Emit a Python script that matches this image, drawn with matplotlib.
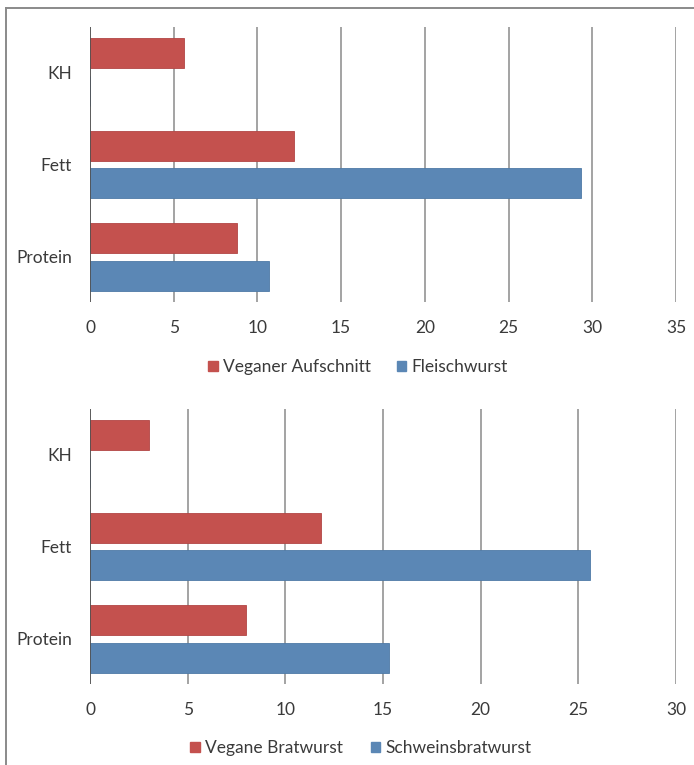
"""Naehrwertvergleich: vegane Wurst vs. Fleischwurst (horizontale Balken)."""

import matplotlib

matplotlib.use("Agg")
import matplotlib.pyplot as plt
import numpy as np
from matplotlib.lines import Line2D
from matplotlib.patches import Patch

CATEGORIES = ["Protein", "Fett", "KH"]

# oberes Diagramm
VEGANER_AUFSCHNITT = [8.8, 12.2, 5.6]
FLEISCHWURST = [10.7, 29.3, 0.0]
TOP_TICKS = [0, 5, 10, 15, 20, 25, 30, 35]

# unteres Diagramm
VEGANE_BRATWURST = [8.0, 11.8, 3.0]
SCHWEINSBRATWURST = [15.3, 25.6, 0.0]
BOTTOM_TICKS = [0, 5, 10, 15, 20, 25, 30]

RED = "#c4514e"
BLUE = "#5b87b5"
TEXT = "#3a3a3a"
GRID = "#8a8a8a"
FONT_SIZE = 12.5

plt.rcParams["font.family"] = ["Lato", "DejaVu Sans"]


def draw_panel(axis, red_values, blue_values, ticks):
    y = np.arange(len(CATEGORIES))
    height = 0.324
    offset = 0.205
    axis.barh(y + offset, red_values, height=height, color=RED,
              edgecolor="#b24644", linewidth=0.6, zorder=3)
    axis.barh(y - offset, blue_values, height=height, color=BLUE,
              edgecolor="#4e7aa6", linewidth=0.6, zorder=3)

    axis.set_xlim(ticks[0], ticks[-1])
    axis.set_ylim(-0.49, 2.49)
    axis.set_xticks(ticks)
    axis.set_yticks(y)
    axis.set_yticklabels(CATEGORIES)
    axis.grid(axis="x", color=GRID, linewidth=1.1, zorder=0)
    axis.axvline(0, color="#505050", linewidth=1.2, zorder=4)
    for spine in axis.spines.values():
        spine.set_visible(False)
    axis.tick_params(axis="x", length=0, pad=13, labelsize=FONT_SIZE, labelcolor=TEXT)
    axis.tick_params(axis="y", length=0, pad=13, labelsize=FONT_SIZE, labelcolor=TEXT)


def legend_handles(labels):
    return [
        Patch(facecolor=RED, edgecolor=RED, label=labels[0]),
        Patch(facecolor=BLUE, edgecolor=BLUE, label=labels[1]),
    ]


figure = plt.figure(figsize=(6.94, 7.65), dpi=100)
top_axis = figure.add_axes([0.1297, 0.6052, 0.8444, 0.3595])
bottom_axis = figure.add_axes([0.1297, 0.1059, 0.8444, 0.3595])

draw_panel(top_axis, VEGANER_AUFSCHNITT, FLEISCHWURST, TOP_TICKS)
draw_panel(bottom_axis, VEGANE_BRATWURST, SCHWEINSBRATWURST, BOTTOM_TICKS)

for handles, y_pos, x_pos, spacing in (
    (legend_handles(["Veganer Aufschnitt", "Fleischwurst"]), 1 - 367 / 765, 358, 1.5),
    (legend_handles(["Vegane Bratwurst", "Schweinsbratwurst"]), 1 - 748 / 765, 361, 1.6),
):
    legend = figure.legend(
        handles=handles,
        loc="center",
        bbox_to_anchor=(x_pos / 694, y_pos),
        ncol=2,
        frameon=False,
        fontsize=FONT_SIZE,
        handlelength=0.55,
        handleheight=0.55,
        handletextpad=0.3,
        columnspacing=spacing,
    )
    for text in legend.get_texts():
        text.set_color(TEXT)

# grauer Bildrahmen (links und oben)
figure.add_artist(Line2D([5.5 / 694, 5.5 / 694], [0, 1 - 8 / 765],
                         transform=figure.transFigure, color="#8a8a8a", linewidth=1.4))
figure.add_artist(Line2D([5.5 / 694, 1], [1 - 8 / 765, 1 - 8 / 765],
                         transform=figure.transFigure, color="#8a8a8a", linewidth=1.4))

figure.savefig("out.png", dpi=100)
